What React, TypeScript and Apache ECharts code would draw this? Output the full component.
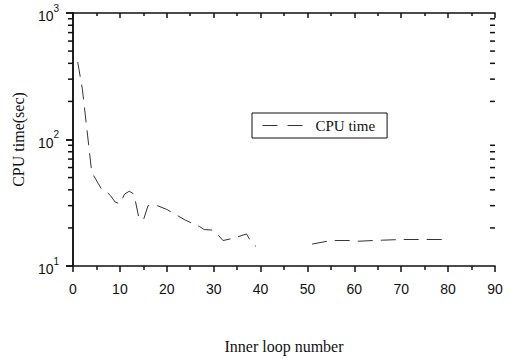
import React, { useEffect, useRef } from "react";
import * as echarts from "echarts";

const SANS = "'Liberation Sans', Arial, Helvetica, sans-serif";
const SERIF = "'Liberation Serif', 'Times New Roman', Times, serif";
const INK = "#111";

// Inner loop number (x) and CPU time in seconds (y); null = no data (gap)
const loopNumber = [1, 2, 4, 6, 7, 8, 9, 10, 11, 12, 13, 14, 15, 16, 18, 20, 24, 27, 28, 30, 31, 32, 34, 37, 38, 39, 45, 51, 55, 59, 61, 64, 66, 70, 80];
const cpuTime = [410, 250, 55, 41, 39, 36, 32, 31, 37, 39, 37, 24.5, 23, 30, 30, 28, 23, 20.5, 19.4, 19.2, 17.5, 15.9, 16.5, 17.9, 15.5, 14.3, null, 14.9, 15.9, 15.9, 15.7, 15.9, 16.0, 16.2, 16.2];

const seriesName = "CPU time";
const xTitle = "Inner loop number";
const yTitle = "CPU time(sec)";
const xMin = 0;
const xMax = 90;
const xInterval = 10;
const yMin = 10;
const yMax = 1000;
// logarithmic minor tick values between decades
const yMinorTicks = [20, 30, 40, 50, 60, 70, 80, 90, 200, 300, 400, 500, 600, 700, 800, 900];

export default function App() {
  const ref = useRef<HTMLDivElement>(null);

  useEffect(() => {
    if (!ref.current) return;
    const chart = echarts.init(ref.current, undefined, { renderer: "svg" });

    const lineData = loopNumber.map((x, i) =>
      cpuTime[i] == null ? [x, "-"] : [x, cpuTime[i]]
    );

    const axisLineStyle = { color: INK, width: 1.5 };
    const dash = [15, 8];

    const option: any = {
      animation: false,
      backgroundColor: "#fff",
      grid: { left: 73, right: 14, top: 13, bottom: 88 },
      legend: {
        data: [seriesName],
        left: 252,
        top: 113,
        orient: "horizontal",
        borderColor: INK,
        borderWidth: 1,
        borderRadius: 0,
        backgroundColor: "#fff",
        padding: [5, 12, 5, 10],
        itemWidth: 40,
        itemHeight: 14,
        itemStyle: { opacity: 0 },
        lineStyle: { color: "#333", width: 1, type: [15, 10] },
        textStyle: { fontFamily: SERIF, fontSize: 15, color: INK, padding: [0, 0, 0, 8] },
      },
      xAxis: [
        {
          type: "value",
          position: "bottom",
          min: xMin,
          max: xMax,
          interval: xInterval,
          axisLine: { lineStyle: axisLineStyle },
          axisTick: { inside: false, length: 6, lineStyle: axisLineStyle },
          minorTick: { show: true, splitNumber: 2, length: 4, lineStyle: axisLineStyle },
          splitLine: { show: false },
          axisLabel: { margin: 16, fontSize: 14, color: INK, fontFamily: SANS },
          name: xTitle,
          nameLocation: "middle",
          nameGap: 72,
          nameTextStyle: { fontFamily: SERIF, fontSize: 16, color: INK },
        },
        {
          type: "value",
          position: "top",
          min: xMin,
          max: xMax,
          interval: xInterval,
          axisLine: { lineStyle: axisLineStyle },
          axisTick: { inside: true, length: 5, lineStyle: axisLineStyle },
          minorTick: { show: true, splitNumber: 2, length: 3, lineStyle: axisLineStyle },
          splitLine: { show: false },
          axisLabel: { show: false },
        },
      ],
      yAxis: [
        {
          type: "log",
          logBase: 10,
          position: "left",
          min: yMin,
          max: yMax,
          axisLine: { lineStyle: axisLineStyle },
          axisTick: { inside: false, length: 7, lineStyle: axisLineStyle },
          splitLine: { show: false },
          axisLabel: {
            margin: 14,
            color: INK,
            formatter: (v: number) => `{b|10}{s|${Math.round(Math.log10(v))}}`,
            rich: {
              b: { fontFamily: SANS, fontSize: 14, color: INK, lineHeight: 20, verticalAlign: "bottom" },
              s: { fontFamily: SANS, fontSize: 10, color: INK, lineHeight: 8, verticalAlign: "top" },
            },
          },
          name: yTitle,
          nameLocation: "middle",
          nameGap: 47,
          nameTextStyle: { fontFamily: SERIF, fontSize: 16, color: INK },
        },
        {
          type: "log",
          logBase: 10,
          position: "right",
          min: yMin,
          max: yMax,
          axisLine: { lineStyle: axisLineStyle },
          axisTick: { inside: true, length: 7, lineStyle: axisLineStyle },
          splitLine: { show: false },
          axisLabel: { show: false },
        },
      ],
      series: [
        {
          name: seriesName,
          type: "line",
          xAxisIndex: 0,
          yAxisIndex: 0,
          data: lineData,
          symbol: "none",
          showSymbol: false,
          connectNulls: false,
          lineStyle: { color: "#333", width: 1, type: dash },
          itemStyle: { color: "#333" },
        },
        {
          name: "minorTicks",
          type: "custom",
          xAxisIndex: 0,
          yAxisIndex: 0,
          silent: true,
          clip: false,
          data: yMinorTicks.map((v) => [xMin, v]),
          renderItem: (_params: any, api: any) => {
            const v = api.value(1);
            const l = api.coord([xMin, v]);
            const r = api.coord([xMax, v]);
            const style = { stroke: INK, lineWidth: 1.5 };
            return {
              type: "group",
              children: [
                { type: "line", shape: { x1: l[0] - 5, y1: l[1], x2: l[0], y2: l[1] }, style },
                { type: "line", shape: { x1: r[0] - 5, y1: r[1], x2: r[0], y2: r[1] }, style },
              ],
            };
          },
        },
      ],
    };

    chart.setOption(option);
    return () => chart.dispose();
  }, []);

  return (
    <div
      ref={ref}
      style={{ position: "fixed", left: 0, top: 0, width: 509, height: 359, background: "#fff" }}
    />
  );
}
